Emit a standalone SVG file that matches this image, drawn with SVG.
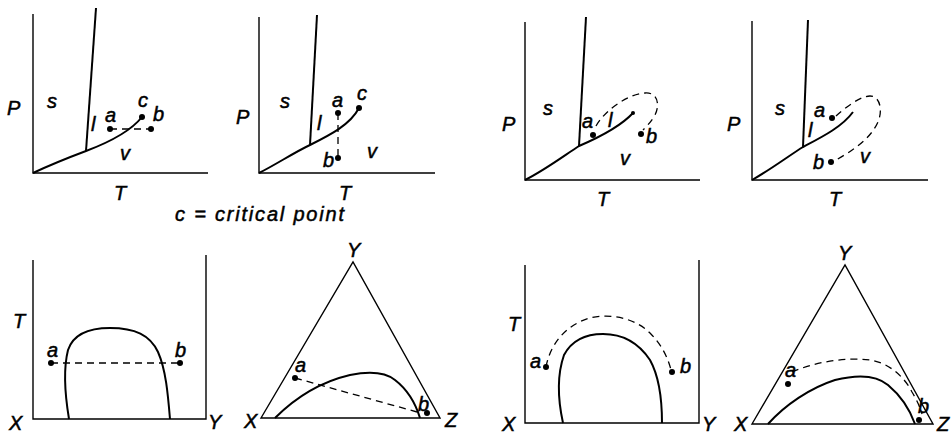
<svg xmlns="http://www.w3.org/2000/svg" width="951" height="434" viewBox="0 0 951 434">
<style>
  .ax{fill:none;stroke:#000;stroke-width:1.4}
  .cv{fill:none;stroke:#000;stroke-width:2}
  .ds{fill:none;stroke:#000;stroke-width:1.3;stroke-dasharray:7 5}
  .dot{fill:#000}
  text{font-family:"Liberation Sans",Arial,sans-serif;font-style:italic;font-size:20px;fill:#000;stroke:#000;stroke-width:0.5}
</style>
<rect width="951" height="434" fill="#fff"/>
<g id="panel1">
  <path class="ax" d="M33,14 V173 H208"/>
  <path class="cv" d="M86,151 L96,8"/>
  <path class="cv" d="M33,173 C50,165 70,157 86,151 C110,142 130,132 142,117"/>
  <circle class="dot" cx="142" cy="117" r="3"/>
  <circle class="dot" cx="110" cy="129" r="3"/>
  <circle class="dot" cx="151" cy="129" r="3"/>
  <text x="7" y="115">P</text><text x="47" y="108">s</text><text x="91" y="131">l</text>
  <text x="105" y="122">a</text><text x="138" y="107">c</text><text x="153" y="121">b</text>
  <text x="120" y="160">v</text><text x="114" y="200">T</text>
</g>
<g id="panel2">
  <path class="ax" d="M259,17 V173 H435"/>
  <path class="cv" d="M310,145 L317,15"/>
  <path class="cv" d="M259,173 C275,165 295,152 310,145 C330,135 350,125 359,108"/>
  <circle class="dot" cx="359" cy="108" r="3"/>
  <circle class="dot" cx="338" cy="113" r="3"/>
  <circle class="dot" cx="338" cy="158" r="3"/>
  <text x="236" y="124">P</text><text x="280" y="108">s</text><text x="332" y="107">a</text>
  <text x="357" y="100">c</text><text x="317" y="130">l</text><text x="323" y="167">b</text>
  <text x="367" y="158">v</text><text x="339" y="200">T</text>
</g>
<g id="caption">
  <text x="175" y="221" letter-spacing="1.8">c = critical point</text>
</g>
<g id="panel3">
  <path class="ax" d="M525,22 V180 H700"/>
  <path class="cv" d="M579,146 L586,17"/>
  <path class="cv" d="M525,180 C545,170 565,155 579,146 C600,137 620,127 633,113"/>
  <circle class="dot" cx="633" cy="113" r="2"/>
  <circle class="dot" cx="593" cy="135" r="3"/>
  <circle class="dot" cx="641" cy="134" r="3"/>
  <text x="502" y="131">P</text><text x="543" y="115">s</text><text x="582" y="128">a</text>
  <text x="608" y="127">l</text><text x="646" y="143">b</text><text x="620" y="165">v</text>
  <text x="597" y="206">T</text>
</g>
<g id="panel4">
  <path class="ax" d="M752,21 V180 H928"/>
  <path class="cv" d="M803,147 L808,20"/>
  <path class="cv" d="M752,180 C770,170 790,155 803,147 C822,137 842,127 853,112"/>
  <circle class="dot" cx="832" cy="118" r="3"/>
  <circle class="dot" cx="831" cy="162" r="3"/>
  <text x="727" y="131">P</text><text x="775" y="115">s</text><text x="814" y="117">a</text>
  <text x="808" y="137">l</text><text x="813" y="169">b</text><text x="860" y="163">v</text>
  <text x="829" y="206">T</text>
</g>
<g id="panel5">
  <path class="ax" d="M33,260 V419 H206 V255"/>
  <path class="cv" d="M69,419 C65,395 63,370 68,350 C73,335 88,328 110,328 C135,328 150,335 158,352 C166,370 168,395 170,419"/>
  <circle class="dot" cx="51" cy="363" r="3"/>
  <circle class="dot" cx="180" cy="363" r="3"/>
  <text x="13" y="328">T</text><text x="47" y="357">a</text><text x="175" y="357">b</text>
  <text x="9" y="430">X</text><text x="208" y="429">Y</text>
</g>
<g id="panel6">
  <path class="ax" d="M261,418 L353,262 L440,418 Z"/>
  <path class="cv" d="M275,418 C295,398 320,382 350,375 C370,371 385,372 395,380 C408,390 416,405 420,418"/>
  <circle class="dot" cx="295" cy="378" r="3"/>
  <circle class="dot" cx="427" cy="413" r="3"/>
  <text x="347" y="257">Y</text><text x="295" y="372">a</text><text x="418" y="411">b</text>
  <text x="244" y="428">X</text><text x="445" y="427">Z</text>
</g>
<g id="panel7">
  <path class="ax" d="M525,265 V423 H699 V260"/>
  <path class="cv" d="M563,423 C558,400 557,375 564,355 C572,340 585,334 603,334 C625,334 640,345 650,360 C660,378 662,400 662,423"/>
  <circle class="dot" cx="546" cy="367" r="3"/>
  <circle class="dot" cx="672" cy="372" r="3"/>
  <text x="508" y="331">T</text><text x="530" y="368">a</text><text x="680" y="373">b</text>
  <text x="502" y="431">X</text><text x="702" y="431">Y</text>
</g>
<g id="panel8">
  <path class="ax" d="M752,424 L845,265 L933,424 Z"/>
  <path class="cv" d="M768,424 C785,405 810,388 835,380 C855,375 875,374 888,385 C900,395 910,410 915,424"/>
  <circle class="dot" cx="788" cy="384" r="3"/>
  <circle class="dot" cx="919" cy="420" r="3"/>
  <text x="838" y="260">Y</text><text x="785" y="377">a</text><text x="918" y="413">b</text>
  <text x="734" y="431">X</text><text x="937" y="431">Z</text>
</g>
<g id="connectors">
  <path class="ds" d="M110,129 H151"/>
  <path class="ds" d="M338,113 V158"/>
  <path class="ds" d="M596,126 C605,110 628,94 645,93 C658,92 660,105 655,115 C651,122 646,127 643,130"/>
  <path class="ds" d="M836,116 C845,108 860,96 870,96 C880,96 883,110 878,122 C870,140 850,152 836,160"/>
  <path class="ds" d="M51,363 H180"/>
  <path class="ds" d="M295,378 L417,412"/>
  <path class="ds" d="M546,367 C550,345 565,325 590,318 C610,313 635,318 650,333 C662,345 668,358 671,370"/>
  <path class="ds" d="M792,372 C815,362 845,357 870,360 C890,363 905,378 912,392 C918,402 921,410 922,414"/>
</g>
</svg>
